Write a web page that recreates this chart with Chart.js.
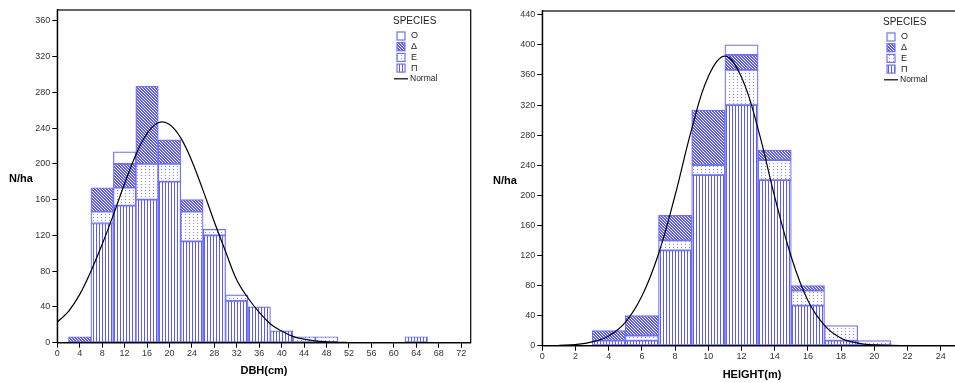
<!DOCTYPE html>
<html>
<head>
<meta charset="utf-8">
<script src="https://cdn.jsdelivr.net/npm/chart.js@4"></script>
<style>
html, body { margin: 0; overflow: hidden; background: #fff; }
body { position: relative; width: 955px; height: 383px; }
#dbh { position: absolute; left: 0; top: 0; }
#height { position: absolute; left: 480px; top: 0; }
</style>
</head>
<body>
<canvas id="dbh" width="480" height="383"></canvas>
<canvas id="height" width="490" height="383"></canvas>
<script>
// DBH classes (4 cm wide, class centres) - N/ha by species
var dbhBins = [4, 8, 12, 16, 20, 24, 28, 32, 36, 40, 44, 48, 52, 56, 60, 64];
var dbhPi = [null, 133.3, 153.3, 160, 180, 113.3, 120, 46.7, 40, 13.3, null, null, null, null, null, 6.7];
var dbhE = [null, 13.3, 20, 40, 20, 33.3, 6.7, 6.7, null, null, 6.7, 6.7, null, null, null, null];
var dbhDelta = [6.7, 26.7, 26.7, 86.7, 26.7, 13.3, null, null, null, null, null, null, null, null, null, null];
var dbhO = [null, null, 13.3, null, null, null, null, null, null, null, null, null, null, null, null, null];
var dbhCurveX = [0, 2, 4, 6, 8, 10, 12, 14, 16, 18, 20, 22, 24, 26, 28, 30, 32, 34, 36, 38, 40, 42, 44, 46, 48, 50, 52];
var dbhCurveY = [23, 35, 54, 80, 110, 143, 178, 210, 234, 246, 244, 229, 203, 170, 135, 102, 70, 50, 34, 21, 13, 7, 4, 2, 1, 0.5, 0.2];
var dbhTicksX = [0, 4, 8, 12, 16, 20, 24, 28, 32, 36, 40, 44, 48, 52, 56, 60, 64, 68, 72];
var dbhTicksY = [0, 40, 80, 120, 160, 200, 240, 280, 320, 360];

// Height classes (2 m wide, class centres)
var heightBins = [4, 6, 8, 10, 12, 14, 16, 18, 20];
var heightPi = [6.7, 6.7, 126.7, 226.7, 320, 220, 53.3, 6.7, null];
var heightE = [null, 6.7, 13.3, 13.3, 46.7, 26.7, 20, 20, 6.7];
var heightDelta = [13.3, 26.7, 33.3, 73.3, 20, 13.3, 6.7, null, null];
var heightO = [null, null, null, null, 13.3, null, null, null, null];
var heightCurveX = [1, 2, 3, 4, 5, 6, 7, 8, 9, 10, 11, 12, 13, 14, 15, 16, 17, 18, 19, 20, 21, 22];
var heightCurveY = [0.5, 1.5, 5, 13, 31, 66, 122, 200, 288, 358, 385, 357, 288, 198, 118, 60, 27, 10, 3.5, 1, 0.3, 0.1];
var heightTicksX = [0, 2, 4, 6, 8, 10, 12, 14, 16, 18, 20, 22, 24];
var heightTicksY = [0, 40, 80, 120, 160, 200, 240, 280, 320, 360, 400, 440];

var speciesLabels = ['Ο', 'Δ', 'Ε', 'Π'];
var BLUE = '#5a5aff';
var EDGE = '#6e6eff';
var FONT = "'Liberation Sans', Arial, sans-serif";

function makePattern(w, h, draw) {
    var c = document.createElement('canvas');
    c.width = w; c.height = h;
    var g = c.getContext('2d');
    g.fillStyle = '#fff';
    g.fillRect(0, 0, w, h);
    draw(g);
    return g.createPattern(c, 'repeat');
}

var fills = {
    'Π': makePattern(3, 1, function (g) { g.fillStyle = BLUE; g.fillRect(0, 0, 1, 1); }),
    'Ε': makePattern(4, 3, function (g) { g.fillStyle = '#8c8cff'; g.fillRect(1, 1, 1, 1); }),
    'Δ': makePattern(3, 3, function (g) {
        g.fillStyle = BLUE; g.fillRect(0, 0, 3, 3);
        g.fillStyle = '#fff';
        for (var i = 0; i < 3; i++) g.fillRect(i, i, 1, 1);
    }),
    'Ο': '#fff'
};

function series(bins, vals) {
    return bins.map(function (x, i) { return { x: x, y: vals[i] }; });
}

function barSet(label, bins, vals) {
    return {
        type: 'bar',
        label: label,
        data: series(bins, vals),
        backgroundColor: fills[label],
        borderColor: EDGE,
        borderWidth: 1.2,
        borderSkipped: false,
        barPercentage: 1,
        categoryPercentage: 1,
        order: 1
    };
}

// frame, legend and axis titles
function decor(opts) {
    return {
        id: 'decor',
        afterDraw: function (chart) {
            var ctx = chart.ctx, a = chart.chartArea;
            ctx.save();
            ctx.strokeStyle = '#000';
            ctx.lineWidth = 1.2;
            ctx.strokeRect(a.left, a.top, a.right - a.left, a.bottom - a.top);

            ctx.fillStyle = '#000';
            ctx.textBaseline = 'middle';
            ctx.font = 'bold 11px ' + FONT;
            ctx.textAlign = 'left';
            ctx.fillText('N/ha', opts.yTitleX, opts.yTitleY);
            ctx.textAlign = 'center';
            ctx.fillText(opts.xTitle, opts.xTitleX, opts.xTitleY);

            // legend
            var lx = opts.legendX, ly = opts.legendY;
            ctx.textAlign = 'left';
            ctx.fillStyle = '#222';
            ctx.font = '10px ' + FONT;
            ctx.fillText('SPECIES', lx, ly);
            ctx.font = '9px ' + FONT;
            speciesLabels.forEach(function (s, i) {
                var cy = ly + 15 + i * 10.7;
                ctx.fillStyle = fills[s];
                ctx.fillRect(lx + 4, cy - 4, 8, 8);
                ctx.strokeStyle = EDGE;
                ctx.lineWidth = 1.2;
                ctx.strokeRect(lx + 4, cy - 4, 8, 8);
                ctx.fillStyle = '#222';
                ctx.fillText(s, lx + 18, cy);
            });
            var ny = ly + 15 + 4 * 10.7;
            ctx.strokeStyle = '#000';
            ctx.lineWidth = 1.2;
            ctx.beginPath();
            ctx.moveTo(lx + 1, ny);
            ctx.lineTo(lx + 15, ny);
            ctx.stroke();
            ctx.font = '8.5px ' + FONT;
            ctx.fillText('Normal', lx + 17, ny);
            ctx.restore();
        }
    };
}

function histogram(id, o) {
    var ticksFont = { family: FONT, size: 9 };
    return new Chart(document.getElementById(id), {
        data: {
            datasets: [
                {
                    type: 'line',
                    label: 'Normal',
                    data: o.curveX.map(function (x, i) { return { x: x, y: o.curveY[i] }; }),
                    borderColor: '#000',
                    borderWidth: 1.2,
                    pointRadius: 0,
                    tension: 0.4,
                    yAxisID: 'yc',
                    order: 0
                },
                barSet('Π', o.bins, o.pi),
                barSet('Ε', o.bins, o.e),
                barSet('Δ', o.bins, o.delta),
                barSet('Ο', o.bins, o.o)
            ]
        },
        options: {
            responsive: false,
            animation: false,
            devicePixelRatio: 1,
            layout: { padding: { left: 0, top: o.top, right: o.right, bottom: 0 } },
            plugins: { legend: { display: false }, tooltip: { enabled: false } },
            scales: {
                x: {
                    type: 'linear',
                    stacked: true,
                    offset: false,
                    min: 0,
                    max: o.xMax,
                    afterBuildTicks: function (s) { s.ticks = o.ticksX.map(function (v) { return { value: v }; }); },
                    afterFit: function (s) { s.height = o.xHeight; },
                    grid: { offset: false, drawOnChartArea: false, drawTicks: true, tickLength: 5, color: '#000' },
                    border: { display: true, color: '#000', width: 1.2 },
                    ticks: { autoSkip: false, maxRotation: 0, padding: 0, color: '#333', font: ticksFont }
                },
                y: {
                    stacked: true,
                    min: 0,
                    max: o.yMax,
                    afterBuildTicks: function (s) { s.ticks = o.ticksY.map(function (v) { return { value: v }; }); },
                    afterFit: function (s) { s.width = o.yWidth; },
                    grid: { drawOnChartArea: false, drawTicks: true, tickLength: 5, color: '#000' },
                    border: { display: true, color: '#000', width: 1.2 },
                    ticks: { padding: 2, color: '#333', font: ticksFont }
                },
                yc: { display: false, min: 0, max: o.yMax }
            }
        },
        plugins: [decor(o.decor)]
    });
}

histogram('dbh', {
    bins: dbhBins, pi: dbhPi, e: dbhE, delta: dbhDelta, o: dbhO,
    curveX: dbhCurveX, curveY: dbhCurveY,
    ticksX: dbhTicksX, ticksY: dbhTicksY,
    xMax: 73.7, yMax: 372,
    top: 10, right: 9.3, xHeight: 40.3, yWidth: 57.3,
    decor: { xTitle: 'DBH(cm)', xTitleX: 264, xTitleY: 371, yTitleX: 9, yTitleY: 179, legendX: 393, legendY: 21 }
});

histogram('height', {
    bins: heightBins, pi: heightPi, e: heightE, delta: heightDelta, o: heightO,
    curveX: heightCurveX, curveY: heightCurveY,
    ticksX: heightTicksX, ticksY: heightTicksY,
    xMax: 25, yMax: 445,
    top: 11, right: 12.7, xHeight: 37.3, yWidth: 62.3,
    decor: { xTitle: 'HEIGHT(m)', xTitleX: 272, xTitleY: 375, yTitleX: 13, yTitleY: 181, legendX: 403, legendY: 22 }
});
</script>
</body>
</html>
